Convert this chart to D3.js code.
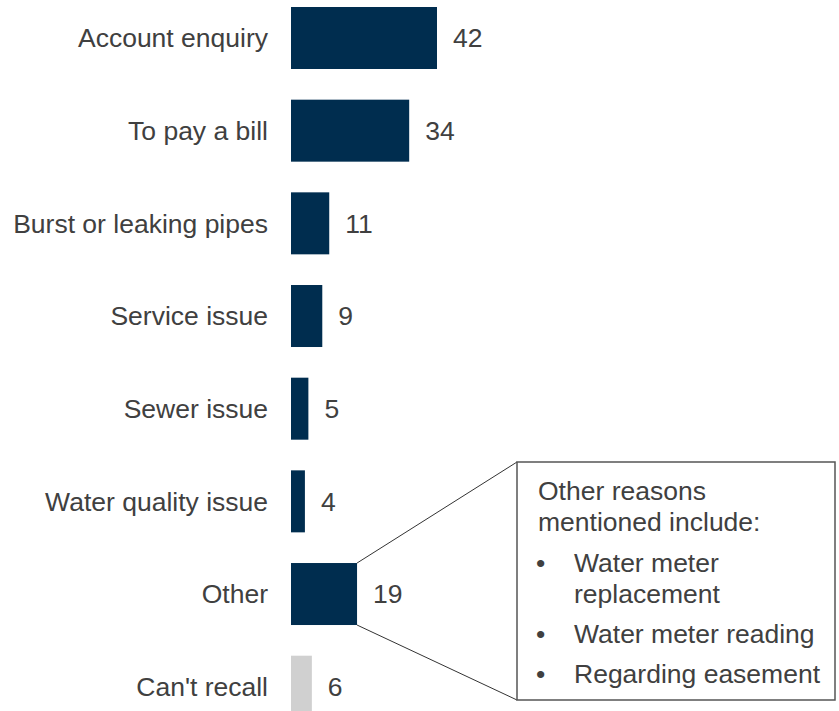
<!DOCTYPE html>
<html>
<head>
<meta charset="utf-8">
<script src="https://cdn.jsdelivr.net/npm/d3@7"></script>
<style>
  body { margin: 0; background: #fff; }
  svg { display: block; font-family: "Liberation Sans", Arial, sans-serif; }
</style>
</head>
<body>
<div id="chart-area"></div>
<script>
const categories = ['Account enquiry', 'To pay a bill', 'Burst or leaking pipes', 'Service issue',
  'Sewer issue', 'Water quality issue', 'Other', "Can't recall"]
const values = [42, 34, 11, 9, 5, 4, 19, 6]
const greyCats = ["Can't recall"]
const calloutHead = ['Other reasons', 'mentioned include:']
const calloutItems = [['Water meter', 'replacement'], ['Water meter reading'], ['Regarding easement']]

const width = 839, height = 711
const fs = 26.5

const svg = d3.select('#chart-area').append('svg')
  .attr('width', width)
  .attr('height', height)

const x = d3.scaleLinear().domain([0, 42]).range([291, 437])
const y = d3.scaleBand().domain(categories)
  .range([7, 7 + 7 * 92.67 + 62])
  .paddingInner(0.331).paddingOuter(0)

const data = categories.map((c, i) => ({cat: c, value: values[i]}))

svg.selectAll('rect.bar').data(data).enter().append('rect')
  .attr('class', 'bar')
  .attr('x', x(0))
  .attr('y', d => y(d.cat))
  .attr('width', d => x(d.value) - x(0))
  .attr('height', y.bandwidth())
  .attr('fill', d => greyCats.includes(d.cat) ? '#d0d0d0' : '#002d4f')

svg.selectAll('text.cat').data(data).enter().append('text')
  .attr('class', 'cat')
  .attr('x', 268)
  .attr('y', d => y(d.cat) + y.bandwidth() / 2)
  .attr('dy', '0.35em')
  .attr('text-anchor', 'end')
  .attr('font-size', fs)
  .attr('fill', '#404040')
  .text(d => d.cat)

svg.selectAll('text.val').data(data).enter().append('text')
  .attr('class', 'val')
  .attr('x', d => x(d.value) + 16)
  .attr('y', d => y(d.cat) + y.bandwidth() / 2)
  .attr('dy', '0.35em')
  .attr('font-size', fs)
  .attr('fill', '#404040')
  .text(d => d.value)

// callout box for "Other"
const other = data.find(d => d.cat === 'Other')
const bx = 517, by = 462, bw = 318, bh = 238
const ox = x(other.value), oy = y(other.cat)

svg.append('line')
  .attr('x1', ox).attr('y1', oy).attr('x2', bx).attr('y2', by)
  .attr('stroke', '#333').attr('stroke-width', 1)
svg.append('line')
  .attr('x1', ox).attr('y1', oy + y.bandwidth()).attr('x2', bx).attr('y2', by + bh)
  .attr('stroke', '#333').attr('stroke-width', 1)

svg.append('rect')
  .attr('x', bx).attr('y', by).attr('width', bw).attr('height', bh)
  .attr('fill', '#fff').attr('stroke', '#555').attr('stroke-width', 1.5)

const tx = 538, bulletX = 536, itemX = 574
let ty = 500
calloutHead.forEach(t => {
  svg.append('text').attr('x', tx).attr('y', ty)
    .attr('font-size', fs).attr('fill', '#404040').text(t)
  ty += 31
})
ty += 10
calloutItems.forEach(lines => {
  svg.append('text').attr('x', bulletX).attr('y', ty)
    .attr('font-size', fs).attr('fill', '#404040').text('•')
  lines.forEach(t => {
    svg.append('text').attr('x', itemX).attr('y', ty)
      .attr('font-size', fs).attr('fill', '#404040').text(t)
    ty += 31
  })
  ty += 9
})
</script>
</body>
</html>
